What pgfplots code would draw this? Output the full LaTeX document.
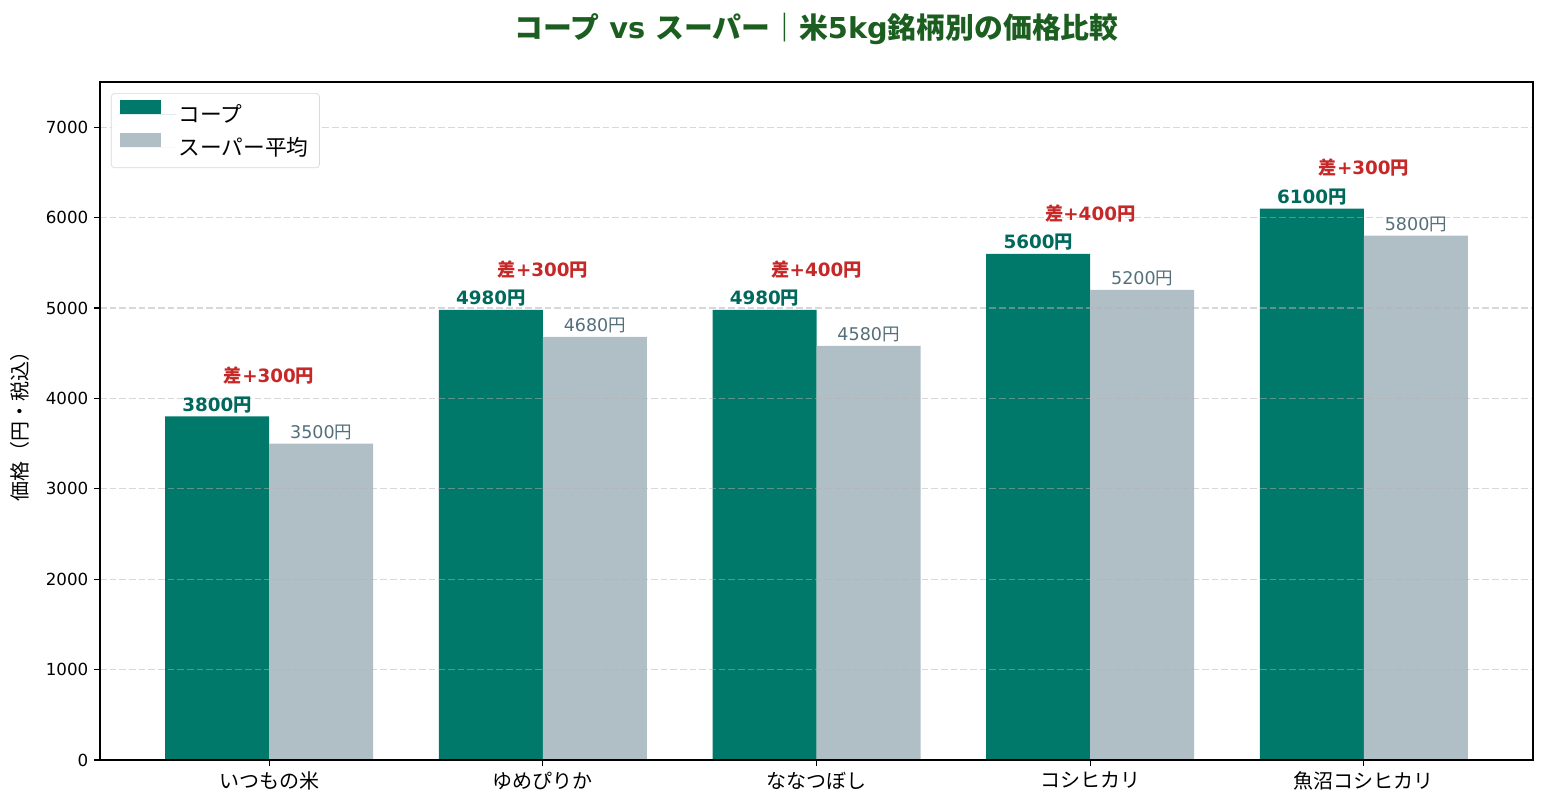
\documentclass[border=0pt]{standalone}
\usepackage{fontspec}
\setmainfont{DejaVu Sans}
\newfontfamily\jp{Noto Sans CJK JP}
\usepackage{pgfplots}
\pgfplotsset{compat=1.18}

\definecolor{coop}{HTML}{00796B}
\definecolor{coopdark}{HTML}{00695C}
\definecolor{super}{HTML}{B0BEC5}
\definecolor{superdark}{HTML}{546E7A}
\definecolor{diffred}{HTML}{C62828}
\definecolor{titlegreen}{HTML}{1B5E20}

\begin{document}
\begin{tikzpicture}
\begin{axis}[
    scale only axis,
    width=859.8pt, height=406.8pt,
    xmin=-0.618, xmax=4.618,
    ymin=0, ymax=7500,
    xtick={0,1,2,3,4},
    xticklabels={{\jp いつもの米},{\jp ゆめぴりか},{\jp ななつぼし},{\jp コシヒカリ},{\jp 魚沼コシヒカリ}},
    ytick={0,1000,...,7000},
    /pgf/number format/1000 sep={},
    /pgf/number format/assume math mode=true,
    xticklabel style={font=\fontsize{12}{14}\selectfont},
    yticklabel style={font=\fontsize{10}{12}\selectfont},
    tick align=outside,
    major tick length=3.5pt,
    xtick pos=left, ytick pos=left,
    tick style={black, line width=0.7pt},
    axis line style={line width=0.7pt},
    ymajorgrids,
    major grid style={dash pattern=on 4pt off 1.8pt, gray!60, opacity=0.5, line width=0.7pt},
    axis on top,
    ylabel={\jp 価格（円・税込）},
    ylabel style={font=\fontsize{12}{14}\selectfont, at={(axis description cs:-0.0558,0.5)}, anchor=center},
    title={\bfseries{\jp コープ} vs {\jp スーパー｜米}5kg{\jp 銘柄別の価格比較}},
    title style={font=\fontsize{17.3}{21}\selectfont, color=titlegreen, at={(axis description cs:0.5,1)}, anchor=center, yshift=26pt},
    legend style={at={(axis description cs:0,1)}, anchor=north west, xshift=6.6pt, yshift=-6.6pt,
        draw=gray!30, rounded corners=2pt, fill=white,
        font=\fontsize{13}{15}\selectfont, row sep=2.5pt, inner xsep=4.5pt, inner ysep=4pt},
    legend cell align=left,
    legend image code/.code={\fill[#1, draw=none, sharp corners] (1pt,0.5pt) rectangle (25pt,8.9pt);
        \path (0pt,0pt) -- (34pt,0pt);},
]
\coordinate (O) at (rel axis cs:0,0);

% コープ
\addplot[ybar, bar width=0.38, bar shift=-0.19, fill=coop, draw=none,
    nodes near coords={\bfseries\pgfmathprintnumber{\pgfplotspointmeta}{\jp 円}},
    every node near coord/.append style={font=\fontsize{11}{13}\selectfont, color=coopdark, anchor=south, inner sep=0pt, yshift=2pt, xshift=-31.2pt}]
    coordinates {(0,3800) (1,4980) (2,4980) (3,5600) (4,6100)};
\addlegendentry{\jp コープ}

% スーパー平均
\addplot[ybar, bar width=0.38, bar shift=0.19, fill=super, draw=none,
    nodes near coords={\pgfmathprintnumber{\pgfplotspointmeta}{\jp 円}},
    every node near coord/.append style={font=\fontsize{10.5}{12}\selectfont, color=superdark, anchor=south, inner sep=0pt, yshift=2pt, xshift=31.2pt}]
    coordinates {(0,3500) (1,4680) (2,4580) (3,5200) (4,5800)};
\addlegendentry{\jp スーパー平均}

% 差
\addplot[draw=none, forget plot, point meta=explicit symbolic,
    nodes near coords,
    every node near coord/.append style={font=\bfseries\fontsize{11}{13}\selectfont, color=diffred, anchor=center, inner sep=0pt}]
    coordinates {
        (0,4250) [{\jp 差}+300{\jp 円}]
        (1,5430) [{\jp 差}+300{\jp 円}]
        (2,5430) [{\jp 差}+400{\jp 円}]
        (3,6050) [{\jp 差}+400{\jp 円}]
        (4,6550) [{\jp 差}+300{\jp 円}]
    };
\end{axis}
\pgfresetboundingbox
\path[use as bounding box] ([shift={(-60pt,-27pt)}]O) rectangle ([shift={(867.6pt,456pt)}]O);
\end{tikzpicture}
\end{document}
